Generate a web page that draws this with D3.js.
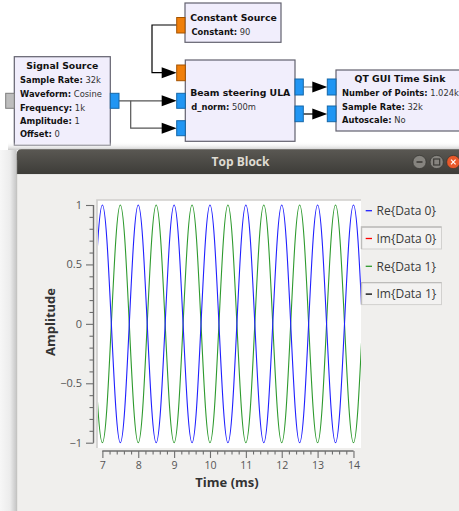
<!DOCTYPE html>
<html><head><meta charset="utf-8">
<script src="https://cdn.jsdelivr.net/npm/d3@7"></script>
<style>html,body{margin:0;padding:0;background:#fff;overflow:hidden}svg{display:block}</style>
</head><body>
<script>
// ---- data ----
const timeMs = [6.75,6.875,7,7.125,7.25,7.375,7.5,7.625,7.75,7.875,8,8.125,8.25,8.375,8.5,8.625,8.75,8.875,9,9.125,9.25,9.375,9.5,9.625,9.75,9.875,10,10.125,10.25,10.375,10.5,10.625,10.75,10.875,11,11.125,11.25,11.375,11.5,11.625,11.75,11.875,12,12.125,12.25,12.375,12.5,12.625,12.75,12.875,13,13.125,13.25,13.375,13.5,13.625,13.75,13.875,14,14.125,14.25];
const reData0 = [0,0.71,1,0.71,0,-0.71,-1,-0.71, 0,0.71,1,0.71,0,-0.71,-1,-0.71, 0,0.71,1,0.71,0,-0.71,-1,-0.71, 0,0.71,1,0.71,0,-0.71,-1,-0.71, 0,0.71,1,0.71,0,-0.71,-1,-0.71, 0,0.71,1,0.71,0,-0.71,-1,-0.71, 0,0.71,1,0.71,0,-0.71,-1,-0.71, 0,0.71,1,0.71,0];
const reData1 = [0,-0.71,-1,-0.71,0,0.71,1,0.71, 0,-0.71,-1,-0.71,0,0.71,1,0.71, 0,-0.71,-1,-0.71,0,0.71,1,0.71, 0,-0.71,-1,-0.71,0,0.71,1,0.71, 0,-0.71,-1,-0.71,0,0.71,1,0.71, 0,-0.71,-1,-0.71,0,0.71,1,0.71, 0,-0.71,-1,-0.71,0,0.71,1,0.71, 0,-0.71,-1,-0.71,0];
const xTicks = [7,8,9,10,11,12,13,14];
const yTicks = [-1,-0.5,0,0.5,1];
const legendLabels = ["Re{Data 0}","Im{Data 0}","Re{Data 1}","Im{Data 1}"];
const legendColors = ["#2020ff","#ff0000","#2e9a2e","#000000"];
const legendHidden = [false,true,false,true];

const W=459,H=511;
const svg=d3.select("body").append("svg").attr("width",W).attr("height",H);
const defs=svg.append("defs");
svg.append("rect").attr("width",W).attr("height",H).attr("fill","#ffffff");

// ---- flowgraph ----
const BF="DejaVu Sans";
const fg=svg.append("g");
function block(x,y,w,h){fg.append("rect").attr("x",x).attr("y",y).attr("width",w).attr("height",h).attr("fill","#f1eefc").attr("stroke","#62616e").attr("stroke-width",1.2);}
function port(x,y,w,h,c,s){fg.append("rect").attr("x",x).attr("y",y).attr("width",w).attr("height",h).attr("fill",c).attr("stroke",s).attr("stroke-width",1);}
function title(x,y,t,anchor){fg.append("text").attr("x",x).attr("y",y).attr("text-anchor",anchor||"middle").attr("font-family",BF).attr("font-weight","bold").attr("font-size",9.3).attr("fill","#111").text(t);}
function param(x,y,k,v){const t=fg.append("text").attr("x",x).attr("y",y).attr("font-family",BF).attr("font-size",8.35).attr("fill","#111");t.append("tspan").attr("font-weight","bold").text(k+":");t.append("tspan").attr("fill","#333").text(" "+v);}
function wire(pts,c){fg.append("path").attr("d",d3.line()(pts)).attr("fill","none").attr("stroke",c).attr("stroke-width",1.2);}
function arrow(tx,y){fg.append("path").attr("d",`M${tx},${y}L${tx-15},${y-5.5}L${tx-15},${y+5.5}Z`).attr("fill","#000");}
const BLUE="#2196f3",BLUES="#1567a8",ORANGE="#f07f0a",ORANGES="#a45300";

// wires
wire([[176.7,25],[152,25],[152,72.7],[162,72.7]],"#000");
wire([[119,100.8],[162,100.8]],"#555");
wire([[130.7,100.8],[130.7,128.2],[162,128.2]],"#555");
wire([[303.3,87],[313,87]],"#888");
wire([[303.3,114],[313,114]],"#000");
arrow(176.7,72.7);arrow(176.7,100.8);arrow(176.7,128.2);arrow(327.3,87);arrow(327.3,114);

block(14.3,56.7,96,88.6);
port(5.7,93.3,8.6,15,"#bdbdbd","#7d7d7d");
port(110.3,93.3,8.7,15,BLUE,BLUES);
title(62.3,69.2,"Signal Source");
param(20,83.3,"Sample Rate","32k");
param(20,96.8,"Waveform","Cosine");
param(20,110.5,"Frequency","1k");
param(20,123.5,"Amplitude","1");
param(20,137.2,"Offset","0");

block(185,3,96,39.3);
port(176.7,17.5,8.3,15.5,ORANGE,ORANGES);
title(233.5,20.6,"Constant Source");
param(191.5,35,"Constant","90");

block(185.3,60,109.7,81.3);
port(176.7,65,8.6,15.7,ORANGE,ORANGES);
port(176.7,93.3,8.6,15,BLUE,BLUES);
port(176.7,120.7,8.6,15,BLUE,BLUES);
port(295,79,8.3,16,BLUE,BLUES);
port(295,106,8.3,15.7,BLUE,BLUES);
title(240.2,96,"Beam steering ULA");
param(191.3,110,"d_norm","500m");

block(336,70,140,61);
port(327.3,79,8.7,16,BLUE,BLUES);
port(327.3,106,8.7,15.7,BLUE,BLUES);
title(400,82.4,"QT GUI Time Sink");
param(342,96,"Number of Points","1.024k");
param(342,109.8,"Sample Rate","32k");
param(342,123.3,"Autoscale","No");

// ---- window ----
const gTop=defs.append("linearGradient").attr("id","gTop").attr("x1",0).attr("y1",0).attr("x2",0).attr("y2",1);
gTop.append("stop").attr("offset","0").attr("stop-color","#ffffff").attr("stop-opacity",0);
gTop.append("stop").attr("offset","1").attr("stop-color","#c9c9c9").attr("stop-opacity",1);
const gLeft=defs.append("linearGradient").attr("id","gLeft").attr("x1",0).attr("y1",0).attr("x2",1).attr("y2",0);
gLeft.append("stop").attr("offset","0").attr("stop-color","#f7f7f7");
gLeft.append("stop").attr("offset","0.6").attr("stop-color","#ececec");
gLeft.append("stop").attr("offset","1").attr("stop-color","#c4c4c4");
const gBar=defs.append("linearGradient").attr("id","gBar").attr("x1",0).attr("y1",0).attr("x2",0).attr("y2",1);
gBar.append("stop").attr("offset","0").attr("stop-color","#5a5853");
gBar.append("stop").attr("offset","1").attr("stop-color","#3d3c38");
svg.append("rect").attr("x",8).attr("y",142).attr("width",W).attr("height",8).attr("fill","url(#gTop)");
svg.append("rect").attr("x",0).attr("y",150).attr("width",16.7).attr("height",H-150).attr("fill","url(#gLeft)");
svg.append("path").attr("d","M16.7,174.3V154.3Q16.7,149.3 21.7,149.3H470V174.3Z").attr("fill","url(#gBar)");
svg.append("rect").attr("x",16.7).attr("y",174.3).attr("width",W).attr("height",H-174.3).attr("fill","#f0efed");
svg.append("line").attr("x1",16.7).attr("x2",16.7).attr("y1",160).attr("y2",H).attr("stroke","#b5b5b3").attr("stroke-width",0.8);
svg.append("text").attr("x",240.5).attr("y",166.3).attr("text-anchor","middle").attr("font-family","Open Sans").attr("font-weight","bold").attr("font-size",12).attr("fill","#dfdbd2").text("Top Block");
// window buttons
[[419.5,"#86847f"],[436.7,"#86847f"],[453.3,"#e9592b"]].forEach(([cx,c],i)=>{
  svg.append("circle").attr("cx",cx).attr("cy",162).attr("r",6.6).attr("fill",c).attr("stroke","#2e2d2a").attr("stroke-width",0.6);
  if(i===0) svg.append("line").attr("x1",cx-3).attr("x2",cx+3).attr("y1",162).attr("y2",162).attr("stroke","#3c3b37").attr("stroke-width",1.6);
  if(i===1) svg.append("rect").attr("x",cx-3).attr("y",159).attr("width",6).attr("height",6).attr("fill","none").attr("stroke","#3c3b37").attr("stroke-width",1.2);
  if(i===2) svg.append("path").attr("d",`M${cx-2.3},${159.7}L${cx+2.3},${164.3}M${cx+2.3},${159.7}L${cx-2.3},${164.3}`).attr("stroke","#fff").attr("stroke-width",1.2);
});

// ---- plot ----
const cx0=97,cx1=361,cy0=200,cy1=448;
const x=d3.scaleLinear().domain([6.85,14.21]).range([cx0,cx1]);
const y=d3.scaleLinear().domain([-1,1]).range([442.7,205]);
svg.append("rect").attr("x",cx0).attr("y",cy0).attr("width",cx1-cx0).attr("height",cy1-cy0).attr("fill","#fff");
svg.append("path").attr("d",`M${cx0},${cy1}V${cy0}H${cx1}`).attr("fill","none").attr("stroke","#cfcecc").attr("stroke-width",1.6);
defs.append("clipPath").attr("id","clip").append("rect").attr("x",cx0+1).attr("y",cy0+1).attr("width",cx1-cx0-1).attr("height",cy1-cy0-1);
const line=d3.line().x((d,i)=>x(timeMs[i])).y(d=>y(d)).curve(d3.curveNatural);
const pg=svg.append("g").attr("clip-path","url(#clip)");
pg.append("path").attr("d",line(reData1)).attr("fill","none").attr("stroke",legendColors[2]).attr("stroke-width",1.1);
pg.append("path").attr("d",line(reData0)).attr("fill","none").attr("stroke",legendColors[0]).attr("stroke-width",1.1);

// axes
const AX="#6e6e6e";
const yAx=svg.append("g").attr("transform","translate(93.5,0)");
yAx.call(d3.axisLeft(y).tickValues(d3.range(-10,11).map(v=>v/10)).tickSize(4).tickFormat(""));
yAx.call(g=>g.selectAll(".tick").filter(d=>yTicks.some(t=>Math.abs(t-d)<1e-9)).remove());
yAx.selectAll("text").remove();
const yAx2=svg.append("g").attr("transform","translate(93.5,0)");
yAx2.call(d3.axisLeft(y).tickValues(yTicks).tickSize(7.5).tickPadding(4).tickFormat(d=>d3.format("")(d)));
[yAx,yAx2].forEach(g=>{g.select(".domain").attr("stroke",AX).attr("stroke-width",1.2).attr("d",`M0,${y(1)}V${y(-1)}`);g.selectAll("line").attr("stroke",AX).attr("stroke-width",1.1);});
yAx2.selectAll("text").attr("font-family","Open Sans").attr("font-size",11).attr("fill","#555");

const xAx=svg.append("g").attr("transform","translate(0,451)");
xAx.call(d3.axisBottom(x).tickValues(d3.range(35,71).map(v=>v/5)).tickSize(3.5).tickFormat(""));
xAx.call(g=>g.selectAll(".tick").filter(d=>Math.abs(d-Math.round(d))<1e-9).remove());
xAx.selectAll("text").remove();
const xAx2=svg.append("g").attr("transform","translate(0,451)");
xAx2.call(d3.axisBottom(x).tickValues(xTicks).tickSize(7).tickPadding(3.6).tickFormat(d3.format("d")));
[xAx,xAx2].forEach(g=>{g.select(".domain").attr("stroke",AX).attr("stroke-width",1.2).attr("d",`M${x(7)},0H${x(14)}`);g.selectAll("line").attr("stroke",AX).attr("stroke-width",1.1);});
xAx2.selectAll("text").attr("font-family","Open Sans").attr("font-size",10.6).attr("fill","#555");

svg.append("text").attr("transform","translate(55,322) rotate(-90)").attr("text-anchor","middle").attr("font-family","Open Sans").attr("font-weight","bold").attr("font-size",13).attr("fill","#333").text("Amplitude");
svg.append("text").attr("x",227).attr("y",486.5).attr("text-anchor","middle").attr("font-family","Open Sans").attr("font-weight","bold").attr("font-size",13).attr("fill","#333").text("Time (ms)");

// legend
const lg=svg.append("g");
legendLabels.forEach((lab,i)=>{
  const cy=210.7+i*27.8;
  if(legendHidden[i]){
    lg.append("rect").attr("x",361.5).attr("y",cy-11.5).attr("width",80).attr("height",22).attr("fill","#f3f2f1").attr("stroke","#d2d1cf").attr("stroke-width",1);
    lg.append("path").attr("d",`M361.5,${cy+10.5}V${cy-11.5}H441.5`).attr("fill","none").attr("stroke","#bdbcba").attr("stroke-width",1.4);
  }
  lg.append("line").attr("x1",365.7).attr("x2",372).attr("y1",cy).attr("y2",cy).attr("stroke",legendColors[i]).attr("stroke-width",1.3);
  lg.append("text").attr("x",376.5).attr("y",cy+4.3).attr("font-family","Open Sans").attr("font-size",12).attr("fill","#3a3a3a").text(lab);
});
</script>
</body></html>
